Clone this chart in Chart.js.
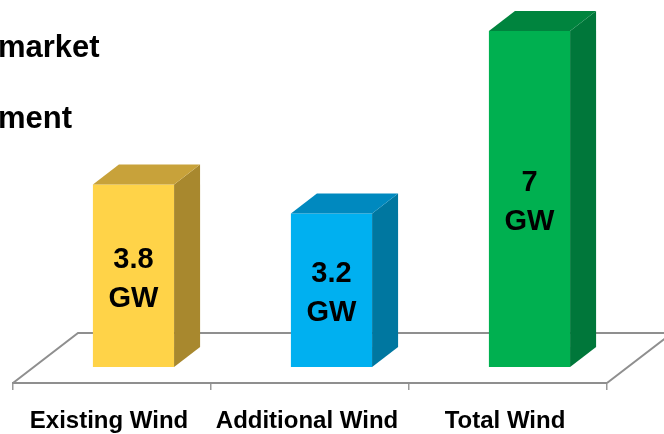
<!DOCTYPE html>
<html>
<head>
<meta charset="utf-8">
<script src="https://cdn.jsdelivr.net/npm/chart.js@4"></script>
<style>
  html, body { margin: 0; padding: 0; background: #fff; }
  #wrap { width: 664px; height: 434px; position: relative; }
</style>
</head>
<body>
<div id="wrap"><canvas id="windChart"></canvas></div>
<script>
// data
const categories = ['Existing Wind', 'Additional Wind', 'Total Wind'];
const capacityGW = [3.8, 3.2, 7];
const unitLabel = 'GW';
const headingLines = ['market', 'ment'];

// colours: front, side, top
const frontColors = ['#FFD348', '#00B0F0', '#00B050'];
const sideColors = ['#A8882E', '#0077A0', '#00773A'];
const topColors = ['#C8A23A', '#0089BF', '#00843E'];

const FONT = "'Liberation Sans', Arial, sans-serif";

// 3d offsets (floor depth and bar depth)
const floorDepth = { dx: 65, dy: -50 };
const barShift = { dx: 21.5, dy: -16 };
const barDepth = { dx: 26, dy: -20 };

const threeD = {
    id: 'threeD',
    beforeDatasetsDraw(chart) {
        const ctx = chart.ctx;
        const area = chart.chartArea;
        const base = chart.scales.y.getPixelForValue(0);

        // floor
        ctx.save();
        ctx.strokeStyle = '#8f8f8f';
        ctx.lineWidth = 2;
        ctx.beginPath();
        ctx.moveTo(area.left, base);
        ctx.lineTo(area.left + floorDepth.dx, base + floorDepth.dy);
        ctx.lineTo(area.right + floorDepth.dx, base + floorDepth.dy);
        ctx.lineTo(area.right, base);
        ctx.stroke();
        ctx.restore();

        // push bars back into the floor
        ctx.save();
        ctx.translate(barShift.dx, barShift.dy);
    },
    afterDatasetsDraw(chart) {
        const ctx = chart.ctx;
        const meta = chart.getDatasetMeta(0);

        meta.data.forEach((bar, i) => {
            const left = bar.x - bar.width / 2;
            const right = bar.x + bar.width / 2;

            // side face
            ctx.fillStyle = sideColors[i];
            ctx.beginPath();
            ctx.moveTo(right, bar.y);
            ctx.lineTo(right + barDepth.dx, bar.y + barDepth.dy);
            ctx.lineTo(right + barDepth.dx, bar.base + barDepth.dy);
            ctx.lineTo(right, bar.base);
            ctx.closePath();
            ctx.fill();

            // top face
            ctx.fillStyle = topColors[i];
            ctx.beginPath();
            ctx.moveTo(left, bar.y);
            ctx.lineTo(left + barDepth.dx, bar.y + barDepth.dy);
            ctx.lineTo(right + barDepth.dx, bar.y + barDepth.dy);
            ctx.lineTo(right, bar.y);
            ctx.closePath();
            ctx.fill();

            // value label
            const mid = (bar.y + bar.base) / 2;
            ctx.fillStyle = '#000';
            ctx.font = 'bold 29px ' + FONT;
            ctx.textAlign = 'center';
            ctx.textBaseline = 'alphabetic';
            ctx.fillText(String(capacityGW[i]), bar.x, mid - 8);
            ctx.fillText(unitLabel, bar.x, mid + 31);
        });

        ctx.restore();
    },
    afterDraw(chart) {
        const ctx = chart.ctx;
        ctx.save();
        ctx.fillStyle = '#000';
        ctx.font = 'bold 31px ' + FONT;
        ctx.textAlign = 'left';
        ctx.textBaseline = 'alphabetic';
        ctx.fillText(headingLines[0], -2, 57);
        ctx.fillText(headingLines[1], -2, 128);
        ctx.restore();
    }
};

const chart = new Chart(document.getElementById('windChart'), {
    type: 'bar',
    data: {
        labels: categories,
        datasets: [{
            data: capacityGW,
            backgroundColor: frontColors,
            borderWidth: 0,
            barPercentage: 0.41,
            categoryPercentage: 1,
            clip: false
        }]
    },
    options: {
        responsive: true,
        maintainAspectRatio: false,
        animation: false,
        layout: {
            padding: { top: 23, left: 13, right: 57, bottom: 0 }
        },
        plugins: {
            legend: { display: false },
            tooltip: { enabled: false }
        },
        scales: {
            x: {
                offset: true,
                afterFit(scale) {
                    scale.height = 51;
                },
                grid: {
                    offset: true,
                    drawOnChartArea: false,
                    tickLength: 7,
                    color: '#9a9a9a',
                    lineWidth: 1.5
                },
                border: { color: '#8f8f8f', width: 2 },
                ticks: {
                    color: '#000',
                    padding: 17,
                    labelOffset: -3,
                    maxRotation: 0,
                    font: { family: FONT, size: 24, weight: 'bold' }
                }
            },
            y: {
                display: false,
                min: 0,
                max: 7.5
            }
        }
    },
    plugins: [threeD]
});
</script>
</body>
</html>
